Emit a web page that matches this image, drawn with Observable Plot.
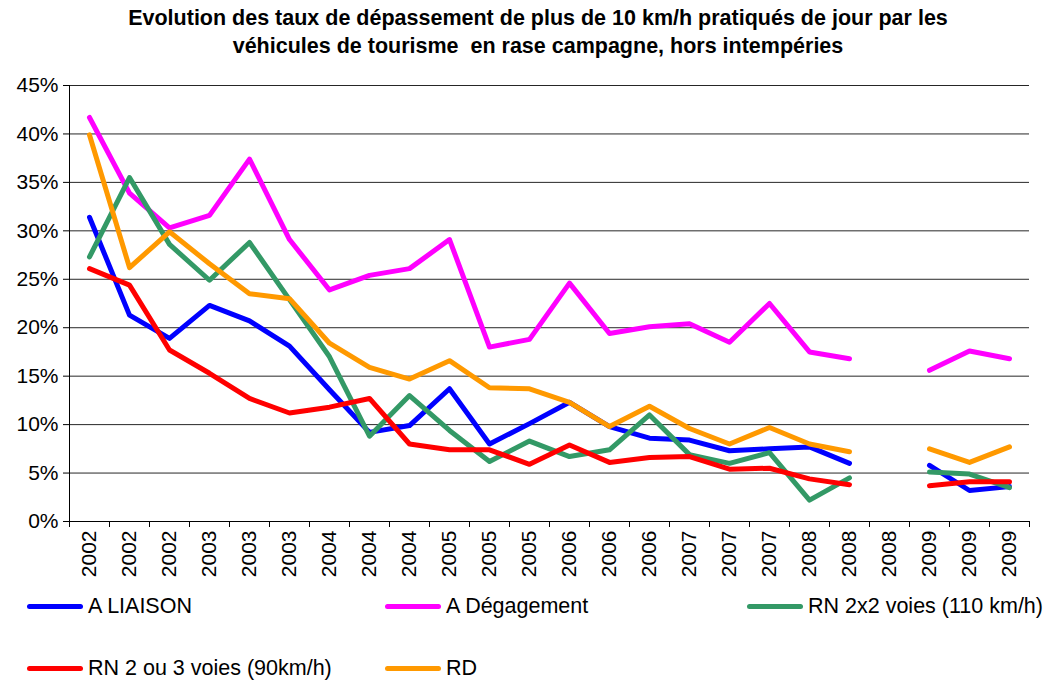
<!DOCTYPE html>
<html>
<head>
<meta charset="utf-8">
<script src="https://cdn.jsdelivr.net/npm/d3@7"></script>
<script src="https://cdn.jsdelivr.net/npm/@observablehq/plot@0.6"></script>
<style>
  body { margin: 0; background: #fff; font-family: "Liberation Sans", Arial, sans-serif; }
  #title { width: 1020px; padding: 4px 0 0 28px; text-align: center; font-weight: bold; font-size: 21.5px; line-height: 28px; color: #000; }
  #chart { margin-top: 5px; height: 516px; }
  #legend { position: relative; height: 100px; font-size: 21.5px; color: #000; }
  .item { position: absolute; display: flex; align-items: center; height: 24px; line-height: 24px; white-space: nowrap; }
  .sw { width: 56px; height: 5px; border-radius: 2.5px; margin-right: 5px; }
</style>
</head>
<body>
<div id="title">Evolution des taux de dépassement de plus de 10 km/h pratiqués de jour par les<br>véhicules de tourisme&nbsp; en rase campagne, hors intempéries</div>
<div id="chart"></div>
<div id="legend"></div>
<script>
const xLabels = ["2002","2002","2002","2003","2003","2003","2004","2004","2004","2005","2005","2005","2006","2006","2006","2007","2007","2007","2008","2008","2008","2009","2009","2009"];
const seriesNames = ["A LIAISON", "A Dégagement", "RN 2x2 voies (110 km/h)", "RN 2 ou 3 voies (90km/h)", "RD"];
const aLiaison    = [31.4,21.3,18.9,22.3,20.7,18.1,13.6,9.2,9.9,13.7,8.0,10.1,12.3,9.8,8.6,8.4,7.3,7.5,7.7,6.0,null,5.8,3.2,3.6];
const aDegagement = [41.7,33.9,30.3,31.6,37.4,29.1,23.9,25.4,26.1,29.1,18.0,18.8,24.6,19.4,20.1,20.4,18.5,22.5,17.5,16.8,null,15.6,17.6,16.8];
const rn2x2       = [27.3,35.5,28.6,24.9,28.8,22.9,17.0,8.8,13.0,9.4,6.2,8.3,6.7,7.4,11.0,6.9,6.0,7.1,2.2,4.5,null,5.1,4.9,3.5];
const rn23        = [26.1,24.4,17.7,15.3,12.7,11.2,11.8,12.7,8.0,7.4,7.4,5.9,7.9,6.1,6.6,6.7,5.4,5.5,4.4,3.8,null,3.7,4.1,4.1];
const rd          = [39.9,26.2,29.9,26.6,23.5,23.0,18.4,15.9,14.7,16.6,13.8,13.7,12.3,9.8,11.9,9.6,8.0,9.7,8.0,7.2,null,7.5,6.1,7.7];
const yTicks = [0,5,10,15,20,25,30,35,40,45];

const seriesColors = ["#0000FF", "#FF00FF", "#339966", "#FF0000", "#FF9900"];
const seriesValues = [aLiaison, aDegagement, rn2x2, rn23, rd];

const data = seriesNames.flatMap((s, k) => seriesValues[k].map((v, i) => ({series: s, i, v})));
const idx = d3.range(xLabels.length);
const bounds = d3.range(xLabels.length + 1).map(b => b - 0.5);

const chart = Plot.plot({
  width: 1048,
  height: 516,
  marginLeft: 69,
  marginRight: 19,
  marginTop: 20,
  marginBottom: 60,
  style: {fontFamily: '"Liberation Sans", Arial, sans-serif', fontSize: "21px", color: "#000", background: "#fff"},
  x: {type: "linear", domain: [-0.5, xLabels.length - 0.5]},
  y: {domain: [0, 45]},
  color: {domain: seriesNames, range: seriesColors},
  marks: [
    Plot.gridY(yTicks, {stroke: "#000", strokeOpacity: 0.85}),
    Plot.ruleX([-0.5], {y1: 0, y2: 45, stroke: "#000"}),
    Plot.ruleY([0], {stroke: "#000"}),
    Plot.axisY({ticks: yTicks, tickSize: 6, tickPadding: 5, tickFormat: d => d + "%", label: null}),
    Plot.axisX({ticks: bounds, tickSize: 6, tickFormat: () => "", label: null}),
    Plot.axisX({ticks: idx, tickSize: 0, tickPadding: 9, tickRotate: -90, tickFormat: i => xLabels[i], label: null}),
    Plot.line(data, {x: "i", y: "v", z: "series", stroke: "series", strokeWidth: 5, strokeLinejoin: "round", strokeLinecap: "round"})
  ]
});
document.getElementById("chart").appendChild(chart);

const legendPos = [[27, 13], [385, 13], [747, 13], [27, 75], [385, 75]];
const legend = document.getElementById("legend");
seriesNames.forEach((s, k) => {
  const it = document.createElement("div");
  it.className = "item";
  it.style.left = legendPos[k][0] + "px";
  it.style.top = legendPos[k][1] + "px";
  const sw = document.createElement("span");
  sw.className = "sw";
  sw.style.background = seriesColors[k];
  const tx = document.createElement("span");
  tx.textContent = s;
  it.appendChild(sw);
  it.appendChild(tx);
  legend.appendChild(it);
});
</script>
</body>
</html>
